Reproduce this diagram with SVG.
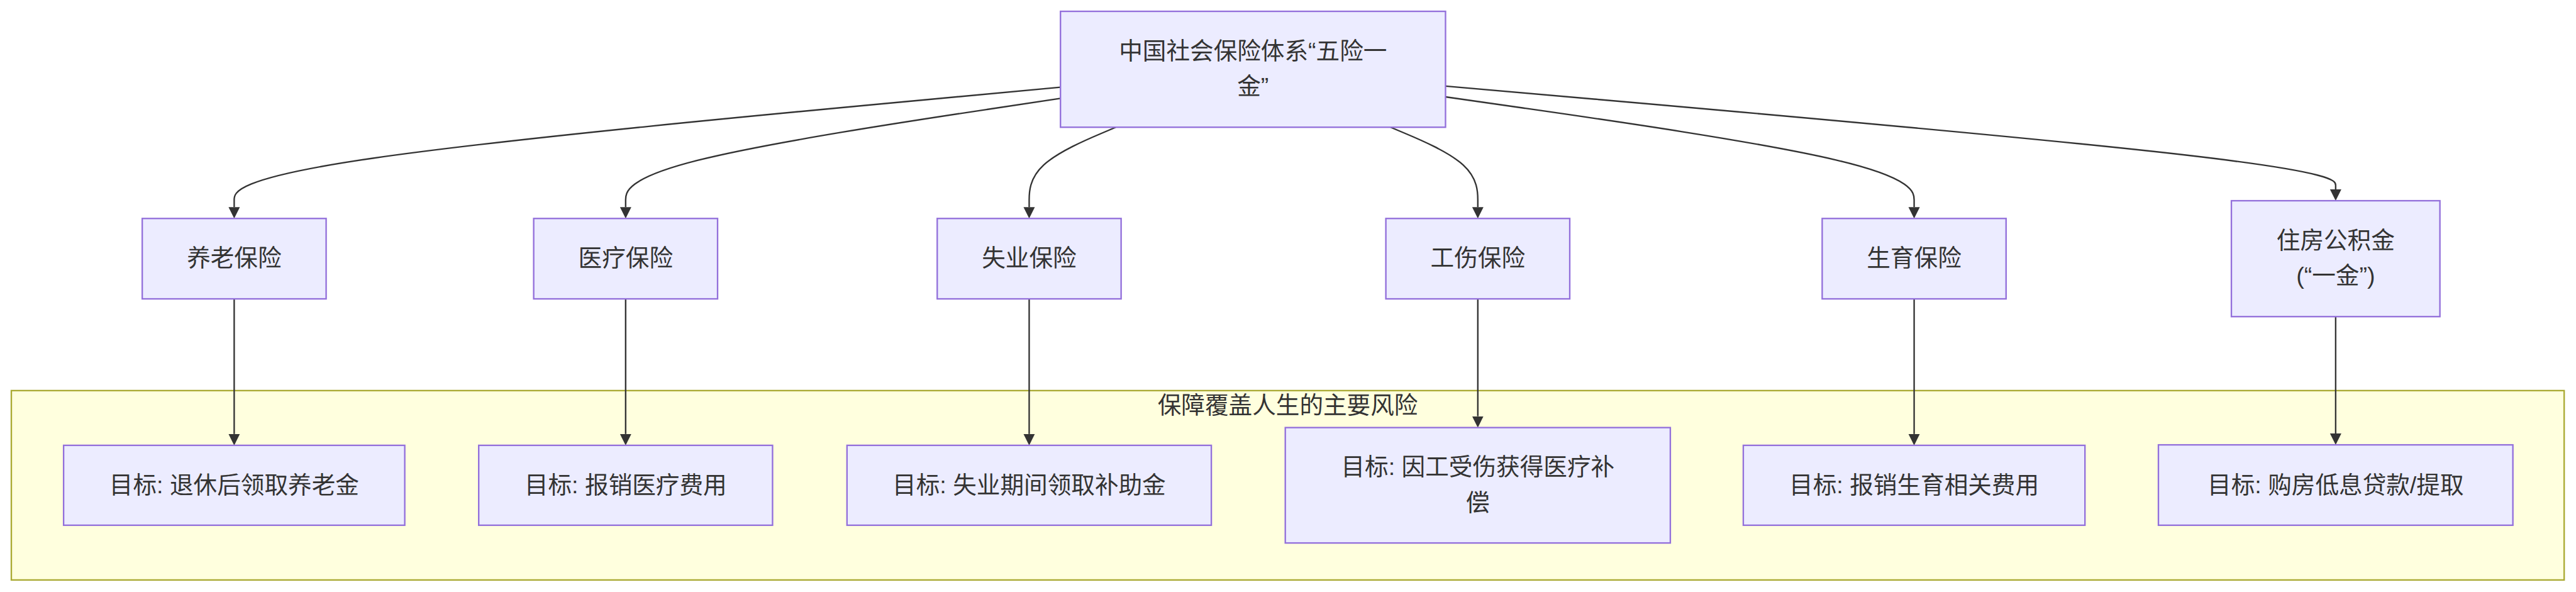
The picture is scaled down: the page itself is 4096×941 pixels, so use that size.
<svg xmlns="http://www.w3.org/2000/svg" width="4096" height="941" viewBox="0 0 4096 941">
<style>
.node rect{fill:#ECECFF;stroke:#9370DB;stroke-width:3}
.cluster rect{fill:#ffffde;stroke:#aaaa33;stroke-width:3}
text{font-family:"Liberation Sans","Noto Sans CJK SC",sans-serif;font-size:48px;fill:#333333;text-anchor:middle;dominant-baseline:central}
.edge{fill:none;stroke:#333333;stroke-width:3}
</style>
<defs>
<marker id="arrow" viewBox="0 0 10 10" refX="0" refY="5" markerUnits="userSpaceOnUse" markerWidth="23" markerHeight="24" orient="auto">
<path d="M0,0 L10,5 L0,10 z" fill="#333333"/>
</marker>
</defs>
<rect width="4096" height="941" fill="#ffffff"/>
<g transform="scale(0.783923)">
<g id="cluster-risk" class="cluster">
<rect x="23" y="792" width="5178" height="384"/>
<text x="2612" y="822">保障覆盖人生的主要风险</text>
</g>
<g id="connectors">
<path class="edge" marker-end="url(#arrow)" d="M2151,176.8 L1871.7,202.8 C1592.3,228.7 1033.7,280.6 754.3,321.1 C475,361.7 475,390.8 475,405.4 L475,420"/>
<path class="edge" marker-end="url(#arrow)" d="M2151,199.4 L2004,221.6 C1857,243.8 1563,288.1 1416,324.9 C1269,361.7 1269,390.8 1269,405.4 L1269,420"/>
<path class="edge" marker-end="url(#arrow)" d="M2263.3,258 L2234,270.4 C2204.7,282.8 2146.1,307.7 2116.8,334.7 C2087.5,361.7 2087.5,390.8 2087.5,405.4 L2087.5,420"/>
<path class="edge" marker-end="url(#arrow)" d="M2820.5,258 L2850,270.4 C2879.5,282.8 2938.5,307.7 2968,334.7 C2997.5,361.7 2997.5,390.8 2997.5,405.4 L2997.5,420"/>
<path class="edge" marker-end="url(#arrow)" d="M2932,196.4 L3090.4,219.1 C3248.8,241.8 3565.7,287.1 3724.1,324.4 C3882.5,361.7 3882.5,390.8 3882.5,405.4 L3882.5,420"/>
<path class="edge" marker-end="url(#arrow)" d="M2932,174.6 L3232.9,200.9 C3533.8,227.2 4135.7,279.9 4436.6,314.8 C4737.5,349.7 4737.5,366.8 4737.5,375.4 L4737.5,384"/>
<path class="edge" marker-end="url(#arrow)" d="M475,607 L475,880"/>
<path class="edge" marker-end="url(#arrow)" d="M1269,607 L1269,880"/>
<path class="edge" marker-end="url(#arrow)" d="M2087.5,607 L2087.5,880"/>
<path class="edge" marker-end="url(#arrow)" d="M2997.5,607 L2997.5,844"/>
<path class="edge" marker-end="url(#arrow)" d="M3882.5,607 L3882.5,880"/>
<path class="edge" marker-end="url(#arrow)" d="M4737.5,642 L4737.5,879"/>
</g>
<g id="node-root" class="node">
<rect x="2151" y="23" width="781" height="235"/>
<text x="2541.5" y="103">中国社会保险体系“五险一</text>
<text x="2541.5" y="175">金”</text>
</g>
<g id="node-pension" class="node">
<rect x="288.5" y="443" width="373" height="163"/>
<text x="475" y="523">养老保险</text>
</g>
<g id="node-medical" class="node">
<rect x="1082.5" y="443" width="373" height="163"/>
<text x="1269" y="523">医疗保险</text>
</g>
<g id="node-unemployment" class="node">
<rect x="1901" y="443" width="373" height="163"/>
<text x="2087.5" y="523">失业保险</text>
</g>
<g id="node-injury" class="node">
<rect x="2811" y="443" width="373" height="163"/>
<text x="2997.5" y="523">工伤保险</text>
</g>
<g id="node-maternity" class="node">
<rect x="3696" y="443" width="373" height="163"/>
<text x="3882.5" y="523">生育保险</text>
</g>
<g id="node-housing" class="node">
<rect x="4526" y="407" width="423" height="235"/>
<text x="4737.5" y="487">住房公积金</text>
<text x="4737.5" y="559">(“一金”)</text>
</g>
<g id="goal-pension" class="node">
<rect x="129" y="903" width="692" height="162"/>
<text x="475" y="983">目标: 退休后领取养老金</text>
</g>
<g id="goal-medical" class="node">
<rect x="971" y="903" width="596" height="162"/>
<text x="1269" y="983">目标: 报销医疗费用</text>
</g>
<g id="goal-unemployment" class="node">
<rect x="1718" y="903" width="739" height="162"/>
<text x="2087.5" y="983">目标: 失业期间领取补助金</text>
</g>
<g id="goal-injury" class="node">
<rect x="2607" y="867" width="781" height="234"/>
<text x="2997.5" y="947">目标: 因工受伤获得医疗补</text>
<text x="2997.5" y="1019">偿</text>
</g>
<g id="goal-maternity" class="node">
<rect x="3536" y="903" width="693" height="162"/>
<text x="3882.5" y="983">目标: 报销生育相关费用</text>
</g>
<g id="goal-housing" class="node">
<rect x="4378" y="902" width="719" height="163"/>
<text x="4737.5" y="983">目标: 购房低息贷款/提取</text>
</g>
</g>
</svg>
